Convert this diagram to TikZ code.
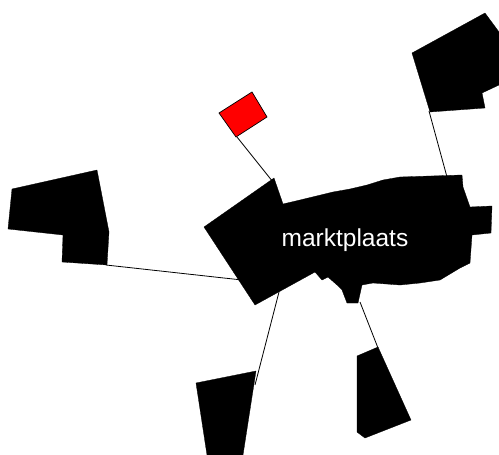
\documentclass[tikz,border=0pt]{standalone}
\usepackage{fontspec}
\setmainfont{Liberation Sans}
\begin{document}
\begin{tikzpicture}[x=1pt,y=-1pt,
  blob/.style={fill=black,draw=black,line width=0.3pt},
  flag/.style={fill=red,draw=black,line width=0.7pt},
  link/.style={draw=black,line width=0.8pt},
  label/.style={text=white,font=\fontsize{24.5}{24.5}\selectfont,anchor=base}]
\useasboundingbox (0,0) rectangle (499,455);
% connector endpoints
\coordinate (cTopIn) at (273,182);
\coordinate (flagFoot) at (237,137);
\coordinate (cTRIn) at (447,177);
\coordinate (trFoot) at (429,111);
\coordinate (cLIn) at (242,280);
\coordinate (lFoot) at (106,265);
\coordinate (cBLIn) at (279,292);
\coordinate (blFoot) at (255,385);
\coordinate (cBRIn) at (360,302);
\coordinate (brFoot) at (378,348);
% connectors
\draw[link] (flagFoot) -- (cTopIn);
\draw[link] (trFoot) -- (cTRIn);
\draw[link] (lFoot) -- (cLIn);
\draw[link] (blFoot) -- (cBLIn);
\draw[link] (brFoot) -- (cBRIn);
% central shape
\path[blob] (204,227) -- (274,178) -- (283,204) -- (300,200) -- (333,192) -- (350,189)
  -- (367,185) -- (383,180) -- (400,177) -- (462,175) -- (463,187) -- (470,207)
  -- (492,206) -- (491,233) -- (472,235) -- (470,263) -- (460,268) -- (440,280)
  -- (420,283) -- (400,285) -- (373,283) -- (362,285) -- (358,303) -- (347,303)
  -- (342,290) -- (337,285) -- (328,277) -- (322,280) -- (315,272) -- (255,305) -- cycle;
% left shape
\path[blob] (12,189) -- (97,170) -- (109,232) -- (107,265) -- (62,262) -- (63,235)
  -- (8,229) -- cycle;
% top right shape
\path[blob] (412,53) -- (485,13) -- (499,32) -- (499,85) -- (482,93) -- (485,108)
  -- (430,112) -- cycle;
% bottom left shape
\path[blob] (196,383) -- (256,371) -- (243,455) -- (207,455) -- cycle;
% bottom right shape
\path[blob] (357,356) -- (378,347) -- (411,420) -- (365,438) -- (357,432) -- cycle;
% red flag
\path[flag] (219,113) -- (252,92) -- (267,117) -- (236,137) -- cycle;
% label
\node[label] (name) at (345,246) {marktplaats};
\end{tikzpicture}
\end{document}
